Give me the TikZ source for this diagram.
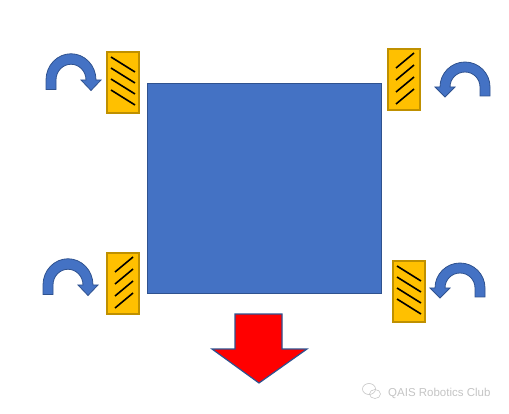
\documentclass[tikz,border=0pt]{standalone}
\usepackage{fontspec}
\setmainfont{Liberation Sans}
\definecolor{bodyblue}{HTML}{4472C4}
\definecolor{edgeblue}{HTML}{2F528F}
\definecolor{wheelfill}{HTML}{FFC000}
\definecolor{wheeledge}{HTML}{BF9000}
\definecolor{wmgray}{HTML}{C4C4C4}
\tikzset{
  bluebody/.style={fill=bodyblue,draw=edgeblue,line width=1.2pt},
  wheelbox/.style={fill=wheelfill,draw=wheeledge,line width=1.5pt},
  tread/.style={black,line width=1.6pt},
  turnarrow/.style={fill=bodyblue,draw=edgeblue,line width=0.8pt},
  pics/curvarrow/.style={code={
    \path[turnarrow] (-25,9) -- (-25,0) arc[start angle=180,end angle=360,radius=25]
      -- (30,0) -- (20,10) -- (10,0) -- (15,0)
      arc[start angle=360,end angle=180,radius=15] -- (-15,9) -- cycle;
  }},
  pics/wheelback/.style={code={
    \path[wheelbox] (0,0) rectangle (32,61);
    \foreach \k in {0,1,2,3}{\draw[tread] (4,{5+11*\k}) -- (28,{20+11*\k});}
  }},
  pics/wheelfwd/.style={code={
    \path[wheelbox] (0,0) rectangle (32,61);
    \foreach \k in {0,1,2,3}{\draw[tread] (8,{19+12*\k}) -- (26,{4+12*\k});}
  }}
}
\begin{document}
\begin{tikzpicture}[x=1pt,y=-1pt]
\useasboundingbox (0,0) rectangle (509,414);
% robot body
\node[bluebody,minimum width=234pt,minimum height=210pt,inner sep=0pt,anchor=north west] (body) at (147,83) {};
% wheels
\pic at (107,52) {wheelback};
\pic at (388,49) {wheelfwd};
\pic at (107,253) {wheelfwd};
\pic at (393,261) {wheelback};
% rotation arrows
\pic[yscale=1.05] at (71,80) {curvarrow};
\pic[xscale=-1] at (465,87) {curvarrow};
\pic[yscale=1.05] at (68,285) {curvarrow};
\pic[xscale=-1] at (460,288) {curvarrow};
% motion arrow
\path[fill=red,draw=edgeblue,line width=1.2pt] (235,314) -- (282,314) -- (282,349) -- (307,349)
  -- (259,383) -- (212,349) -- (235,349) -- cycle;
% watermark
\begin{scope}[draw=wmgray,line width=0.6pt]
\draw (369,389) ellipse[x radius=6.5,y radius=5.5];
\draw (375,394) ellipse[x radius=5.5,y radius=4.5];
\end{scope}
\node[anchor=west,text=wmgray,inner sep=0pt,font=\fontsize{11.5}{13}\selectfont] (wm) at (388,393) {QAIS Robotics Club};
\end{tikzpicture}
\end{document}
